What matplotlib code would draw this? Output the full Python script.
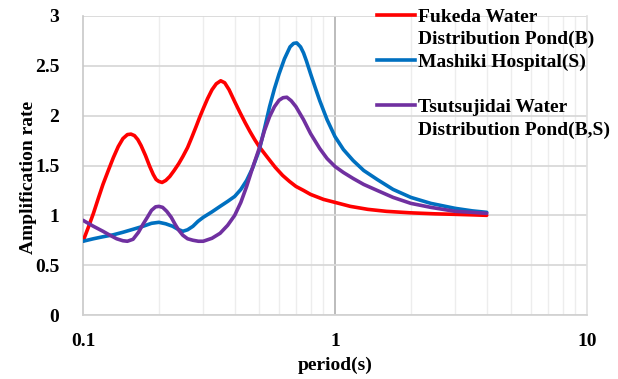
import matplotlib
matplotlib.use("Agg")
import matplotlib.pyplot as plt
from matplotlib.lines import Line2D
from matplotlib.ticker import FixedLocator, NullFormatter

# data (period in s, amplification rate)
fukeda_period = [0.100, 0.105, 0.110, 0.115, 0.120, 0.126, 0.132, 0.138, 0.144, 0.150,
                 0.155, 0.160, 0.165, 0.170, 0.177, 0.184, 0.190, 0.195, 0.200, 0.206,
                 0.213, 0.221, 0.230, 0.240, 0.249, 0.260, 0.270, 0.281, 0.290, 0.300,
                 0.312, 0.325, 0.338, 0.352, 0.365, 0.380, 0.400, 0.420, 0.440, 0.460,
                 0.480, 0.500, 0.540, 0.580, 0.620, 0.660, 0.700, 0.750, 0.800, 0.900,
                 1.000, 1.150, 1.350, 1.600, 2.000, 2.500, 3.000, 3.500, 4.000]
fukeda_amp = [0.74, 0.88, 1.02, 1.17, 1.31, 1.45, 1.58, 1.69, 1.77, 1.81,
              1.815, 1.80, 1.76, 1.70, 1.60, 1.49, 1.41, 1.36, 1.34, 1.33,
              1.35, 1.39, 1.45, 1.52, 1.59, 1.68, 1.78, 1.89, 1.98, 2.07,
              2.17, 2.26, 2.32, 2.35, 2.33, 2.26, 2.14, 2.03, 1.93, 1.84,
              1.76, 1.69, 1.58, 1.48, 1.40, 1.34, 1.29, 1.25, 1.21, 1.16,
              1.13, 1.09, 1.06, 1.04, 1.025, 1.015, 1.01, 1.005, 1.00]

mashiki_period = [0.100, 0.110, 0.120, 0.132, 0.144, 0.158, 0.173, 0.187, 0.200, 0.213,
                  0.227, 0.238, 0.249, 0.260, 0.273, 0.286, 0.300, 0.325, 0.350, 0.375,
                  0.400, 0.423, 0.446, 0.470, 0.500, 0.525, 0.550, 0.575, 0.600, 0.630,
                  0.663, 0.685, 0.705, 0.730, 0.750, 0.770, 0.800, 0.835, 0.870, 0.930,
                  1.000, 1.080, 1.180, 1.300, 1.470, 1.700, 2.000, 2.400, 3.000, 3.500,
                  4.000]
mashiki_amp = [0.74, 0.765, 0.785, 0.805, 0.83, 0.86, 0.89, 0.92, 0.93, 0.915,
               0.89, 0.86, 0.84, 0.855, 0.89, 0.94, 0.98, 1.035, 1.09, 1.14,
               1.19, 1.26, 1.35, 1.47, 1.65, 1.87, 2.09, 2.27, 2.42, 2.57,
               2.69, 2.725, 2.73, 2.69, 2.63, 2.55, 2.42, 2.28, 2.15, 1.96,
               1.79, 1.66, 1.55, 1.45, 1.36, 1.26, 1.18, 1.12, 1.07, 1.045,
               1.03]

tsutsujidai_period = [0.100, 0.110, 0.120, 0.128, 0.136, 0.144, 0.150, 0.158, 0.166, 0.173,
                      0.180, 0.187, 0.194, 0.200, 0.207, 0.215, 0.224, 0.232, 0.240, 0.249,
                      0.260, 0.273, 0.287, 0.300, 0.325, 0.350, 0.375, 0.400, 0.423, 0.446,
                      0.470, 0.500, 0.525, 0.550, 0.575, 0.600, 0.622, 0.644, 0.670, 0.700,
                      0.750, 0.800, 0.870, 0.930, 1.000, 1.080, 1.180, 1.300, 1.470, 1.700,
                      2.000, 2.400, 3.000, 3.500, 4.000]
tsutsujidai_amp = [0.95, 0.89, 0.84, 0.80, 0.765, 0.745, 0.74, 0.76, 0.83, 0.91,
                   0.98, 1.05, 1.085, 1.09, 1.08, 1.04, 0.98, 0.91, 0.85, 0.80,
                   0.765, 0.75, 0.74, 0.74, 0.77, 0.82, 0.90, 1.00, 1.13, 1.29,
                   1.47, 1.67, 1.85, 1.99, 2.09, 2.155, 2.18, 2.185, 2.15, 2.09,
                   1.96, 1.82, 1.67, 1.57, 1.49, 1.43, 1.37, 1.31, 1.25, 1.18,
                   1.12, 1.08, 1.04, 1.03, 1.02]

labels = ["Fukeda Water\nDistribution Pond(B)",
          "Mashiki Hospital(S)\n",
          "Tsutsujidai Water\nDistribution Pond(B,S)"]
colors = ["#FF0000", "#0070C0", "#7030A0"]

x_ticks = [0.1, 1, 10]
x_ticklabels = ["0.1", "1", "10"]
y_ticks = [0, 0.5, 1, 1.5, 2, 2.5, 3]
y_ticklabels = ["0", "0.5", "1", "1.5", "2", "2.5", "3"]

plt.rcParams['font.family'] = ['Liberation Serif', 'DejaVu Serif']
plt.rcParams['font.weight'] = 'bold'

fig = plt.figure(figsize=(6.18, 3.79), dpi=100)
ax = fig.add_axes([83 / 618, 1 - 315 / 379, 504 / 618, 299 / 379])

series = [(fukeda_period, fukeda_amp), (mashiki_period, mashiki_amp),
          (tsutsujidai_period, tsutsujidai_amp)]
for (p, a), c in zip(series, colors):
    ax.plot(p, a, color=c, lw=2.6, solid_capstyle='round', solid_joinstyle='round', zorder=3)

ax.set_xscale('log')
ax.set_xlim(0.1, 10)
ax.set_ylim(0, 3)

ax.xaxis.set_major_locator(FixedLocator(x_ticks))
ax.set_xticklabels(x_ticklabels)
minors = [m * d for d in (0.1, 1) for m in range(2, 10)]
ax.xaxis.set_minor_locator(FixedLocator(minors))
ax.xaxis.set_minor_formatter(NullFormatter())
ax.set_yticks(y_ticks)
ax.set_yticklabels(y_ticklabels)

ax.grid(axis='y', which='major', color='#D9D9D9', lw=1.3, zorder=0)
ax.grid(axis='x', which='minor', color='#EDEDED', lw=1.0, zorder=0)
ax.axvline(1, color='#B0B0B0', lw=1.2, zorder=1)

ax.spines['top'].set_visible(False)
ax.spines['left'].set_color('#C8C8C8')
ax.spines['bottom'].set_color('#D0D0D0')
ax.spines['right'].set_color('#E0E0E0')
for s in ax.spines.values():
    s.set_linewidth(1.2)

ax.tick_params(which='both', length=0)
ax.tick_params(axis='y', pad=17, labelsize=14)
ax.tick_params(axis='x', pad=13, labelsize=14)

ax.set_xlabel('period(s)', fontsize=14, fontweight='bold', va='center')
ax.set_ylabel('Amplification rate', fontsize=14, fontweight='bold', va='center')
ax.xaxis.set_label_coords(0.5, -0.167)
ax.yaxis.set_label_coords(-0.108, 0.46)

# legend drawn by hand so the line sits beside the first text row
row = 0
for lab, c in zip(labels, colors):
    lines = lab.split("\n")
    y0 = 1 - (17 + 22.6 * row) / 379
    fig.add_artist(Line2D([377 / 618, 415 / 618], [y0 + 2 / 379, y0 + 2 / 379],
                          color=c, lw=2.6, transform=fig.transFigure))
    for k, t in enumerate(lines):
        yk = 1 - (17 + 22.6 * (row + k)) / 379
        fig.text(418 / 618, yk, t, fontsize=14, fontweight='bold', va='center', ha='left')
    row += len(lines)

fig.savefig('out.png', dpi=100)
